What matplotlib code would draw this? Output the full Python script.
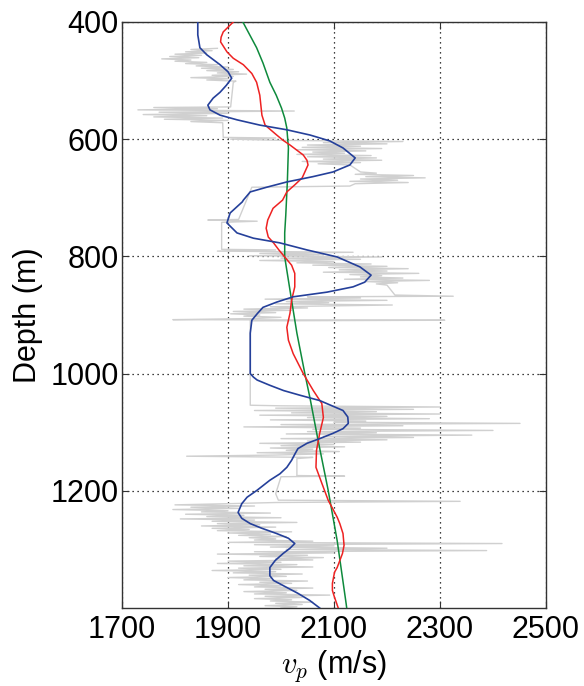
import matplotlib
matplotlib.use("Agg")
import matplotlib.pyplot as plt

plt.rcParams['font.family'] = ['Liberation Sans', 'DejaVu Sans']
plt.rcParams['mathtext.fontset'] = 'cm'

# ---- gray well log (depth m, vp m/s) ----
gray_depth = [445, 447, 449, 451, 453, 455, 457, 459, 461, 463, 465, 467, 469, 471, 473, 475, 477, 479,
              481, 483, 485, 487, 489, 491, 493, 495, 497, 499, 501, 503, 545,
              546, 548, 550, 552, 554, 556, 558, 560, 562, 564, 566, 568, 570, 572, 597, 598, 600, 602,
              604, 606, 608, 610, 612, 614, 616, 618, 620, 622, 624, 626, 628, 630, 632, 634, 636, 638,
              640, 642, 644, 650, 656,
              658, 660, 662, 664, 666, 668, 670, 672, 674, 676, 680, 682, 737, 738, 740, 742, 788,
              789, 791, 793, 795, 797, 799, 801, 803, 805, 807, 809, 811, 813, 815, 817, 819, 821, 823,
              825, 827, 829, 831, 833, 835, 837, 839, 841, 843, 845, 847, 849, 866, 868, 869, 871,
              873, 875, 877, 879, 881, 883, 886, 888, 890, 892, 894, 896, 898, 900, 902, 904, 906, 908,
              909, 910, 1054, 1055,
              1057, 1059, 1061, 1063, 1065, 1067, 1069, 1071, 1073, 1075, 1077, 1079, 1081, 1083, 1085,
              1087, 1089, 1091, 1093, 1095, 1097, 1099, 1101, 1103, 1105, 1107, 1109, 1111, 1113, 1115,
              1117, 1119, 1121, 1123, 1125, 1127, 1129, 1131, 1133, 1135, 1137, 1139, 1141, 1143, 1145,
              1174, 1175, 1176, 1205, 1216, 1218, 1220,
              1222, 1224, 1226, 1228, 1230, 1232, 1234, 1236, 1238, 1240, 1242, 1244, 1246, 1248, 1250,
              1252, 1254, 1256, 1258, 1260, 1262, 1264, 1266, 1268, 1270, 1272, 1274, 1276, 1278, 1280,
              1282, 1284, 1286, 1288, 1290, 1292, 1294, 1296, 1298, 1300, 1302, 1304, 1306, 1308, 1310,
              1312, 1314, 1316, 1318, 1320, 1322, 1324, 1326, 1328, 1330, 1332, 1334, 1336, 1338, 1340,
              1342, 1344, 1346, 1348, 1350, 1352, 1354, 1356, 1358, 1360, 1362, 1364, 1366, 1368, 1370,
              1372, 1374, 1376, 1378, 1380, 1382, 1384, 1386, 1388, 1390, 1392, 1394, 1396, 1398, 1400]
gray_vp = [1880, 1830, 1870, 1820, 1860, 1800, 1850, 1790, 1845, 1775, 1830, 1800, 1860, 1820, 1880, 1840, 1900, 1850,
           1910, 1860, 1920, 1880, 1935, 1870, 1910, 1830, 1900, 1860, 1915, 1910, 1905,
           1760, 1880, 1730, 2025, 1770, 1900, 1740, 1860, 1760, 1890, 1780, 1900, 1830, 1890, 1891, 1990, 1905, 2000,
           2230, 2080, 2200, 2050, 2150, 2040, 2190, 2030, 2160, 2060, 2120, 2030, 2170, 2050, 2180, 2080, 2190, 2040,
           2150, 2070, 2130, 2140, 2150,
           2180, 2140, 2250, 2160, 2272, 2150, 2220, 2130, 2240, 2140, 2130, 1945, 1920, 1862, 1955, 1888, 1888,
           1990, 1880, 2136, 1960, 2080, 1940, 2190, 2000, 2150, 1960, 2100, 2030, 2170, 2060, 2200, 2090, 2240, 2110,
           2200, 2080, 2260, 2130, 2190, 2150, 2230, 2120, 2280, 2160, 2220, 2180, 2200, 2215, 2325, 2050, 2150,
           1970, 2200, 2010, 2090, 1990, 2210, 1980, 2050, 1930, 2020, 1910, 1990, 1905, 1960, 1930, 2000, 1950, 1796,
           2309, 1942, 1942, 2000,
           2300, 1990, 2250, 1950, 2180, 2020, 2300, 1960, 2200, 2050, 2280, 1980, 2160, 2100, 2451,
           2000, 2230, 1930, 2150, 2060, 2400, 2050, 2180, 2010, 2360, 2080, 2250, 2000, 2200, 2050,
           2150, 1960, 2100, 2000, 2120, 1980, 2060, 2010, 2110, 1955, 2080, 1990, 1822, 2060, 2030,
           2030, 2120, 2000, 1990, 1995, 2338, 1990,
           1900, 1800, 1950, 1830, 1920, 1796, 1900, 1850, 1980, 1820, 1930, 1860, 2000, 1810, 1950,
           1870, 2030, 1880, 1960, 1850, 1990, 1870, 1940, 1880, 2020, 1900, 1980, 1920, 2010, 1940,
           1990, 1950, 2060, 1900, 2417, 1950, 2100, 1980, 2200, 2010, 2388, 1950, 2100, 1880, 2050,
           1960, 2080, 1990, 2060, 1900, 2000, 1880, 2030, 1930, 2060, 1920, 2000, 1870, 1990, 1910,
           2040, 1940, 2010, 1900, 1980, 1930, 2050, 1960, 2020, 1920, 2000, 1950, 2060, 1970, 2030,
           1930, 2010, 1950, 2092, 1970, 2040, 1950, 2020, 1980, 2060, 1990, 2040, 1970, 2030, 2000]

# ---- smooth model curves ----
blue_depth = [400, 422, 444, 456, 473, 485, 496, 508, 520, 530, 542, 550, 559, 567, 576, 584, 593, 603,
              615, 632, 644, 656, 664, 673, 682, 690, 704, 707, 726, 743, 760, 769, 777, 789, 801, 818,
              832, 844, 852, 861, 869, 878, 887, 898, 909, 931, 1000, 1006, 1011, 1020, 1029, 1037,
              1046, 1063, 1074, 1085, 1094, 1102, 1111, 1119, 1128, 1136, 1148, 1160, 1171, 1182,
              1199, 1211, 1222, 1237, 1247, 1256, 1264, 1273, 1281, 1290, 1298, 1307, 1319, 1331,
              1345, 1353, 1365, 1375, 1387, 1400]
blue_vp = [1843, 1843, 1847, 1860, 1885, 1900, 1907, 1897, 1885, 1872, 1862, 1866, 1885, 1917, 1960, 2011, 2055, 2092,
           2117, 2140, 2130, 2098, 2060, 2011, 1973, 1942, 1929, 1927, 1904, 1898, 1917, 1948, 1998, 2049, 2106, 2149,
           2170, 2158, 2136, 2087, 2023, 1992, 1966, 1955, 1945, 1942, 1942, 1948, 1955, 1979, 2005, 2036,
           2073, 2117, 2126, 2127, 2117, 2098, 2073, 2049, 2032, 2027, 2020, 2011, 1998, 1979,
           1955, 1936, 1926, 1919, 1926, 1942, 1964, 1992, 2014, 2026, 2017, 2004, 1989, 1979,
           1979, 1986, 2011, 2032, 2054, 2073]

red_depth = [400, 417, 426, 434, 451, 462, 473, 488, 503, 525, 542, 559, 576, 593, 602, 610, 627, 636, 644,
             656, 666, 678, 690, 704, 718, 738, 752, 767, 777, 789, 801, 815, 829, 852, 875, 897, 921,
             943, 966, 1000, 1029, 1051, 1075, 1102, 1131, 1160, 1187, 1216, 1245, 1256, 1273, 1293,
             1307, 1319, 1331, 1339, 1358, 1370, 1379, 1400]
red_vp = [1910, 1891, 1887, 1886, 1898, 1910, 1929, 1945, 1954, 1960, 1962, 1964, 1970, 1992, 2004, 2017, 2042, 2049, 2051,
          2045, 2040, 2026, 2011, 2003, 1985, 1975, 1972, 1976, 1986, 1996, 2007, 2020, 2026, 2026, 2020, 2017, 2011,
          2014, 2023, 2042, 2061, 2077, 2080, 2073, 2067, 2066, 2077, 2089, 2106, 2111, 2117, 2119,
          2116, 2111, 2106, 2101, 2097, 2097, 2100, 2108]

green_depth = [400, 444, 470, 503, 525, 547, 564, 581, 615, 673, 730, 760, 801, 875, 931, 1000, 1043, 1114,
               1199, 1285, 1393, 1400]
green_vp = [1928, 1954, 1966, 1979, 1991, 2001, 2007, 2011, 2014, 2012, 2009, 2007, 2007, 2020, 2030, 2045, 2055, 2070,
            2089, 2106, 2123, 2124]

x_ticks = [1700, 1900, 2100, 2300, 2500]
y_ticks = [400, 600, 800, 1000, 1200]

fig = plt.figure(figsize=(5.84, 6.86), dpi=100)
ax = fig.add_axes([0.2089, 0.1137, 0.7260, 0.8543])

ax.plot(gray_vp, gray_depth, color='#d0d0d0', lw=1.0, zorder=2)
ax.plot(green_vp, green_depth, color='#0e8a3c', lw=1.1, zorder=3, solid_joinstyle='round')
ax.plot(red_vp, red_depth, color='#ee2222', lw=1.1, zorder=4, solid_joinstyle='round')
ax.plot(blue_vp, blue_depth, color='#25409a', lw=1.2, zorder=5, solid_joinstyle='round')

ax.set_xlim(1700, 2500)
ax.set_ylim(1400, 400)
ax.set_xticks(x_ticks)
ax.set_yticks(y_ticks)
ax.tick_params(direction='in', length=5, width=0.8, labelsize=22, top=True, right=True,
               color='#333333')
ax.tick_params(axis='y', pad=2.5)
ax.tick_params(axis='x', pad=5)
ax.grid(True, linestyle=(0, (1, 3)), color='black', linewidth=0.9)
ax.set_axisbelow(True)
for s in ax.spines.values():
    s.set_linewidth(1.0)
    s.set_color('#333333')

ax.set_ylabel('Depth (m)', fontsize=22, labelpad=5)
ax.set_xlabel('$v_p$ (m/s)', fontsize=22, labelpad=2)

fig.savefig('out.png', dpi=100)
